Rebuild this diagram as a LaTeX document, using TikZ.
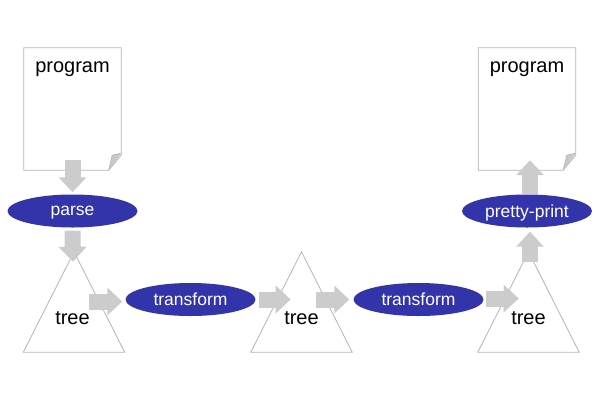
\documentclass[tikz,border=0pt]{standalone}
\usepackage{fontspec}
\setmainfont{Liberation Sans}
\usetikzlibrary{arrows.meta,shapes.geometric}
\definecolor{blk}{RGB}{204,204,204}
\definecolor{ovl}{RGB}{51,51,170}
\definecolor{edge}{RGB}{180,180,180}
\definecolor{fold}{RGB}{200,200,200}
\tikzset{
  docbox/.style={rectangle,draw=none,minimum width=97pt,minimum height=122pt,inner sep=0pt},
  doctext/.style={font=\fontsize{20}{22}\selectfont,anchor=base},
  op/.style={ellipse,fill=ovl,draw=none,text=white,minimum width=130pt,minimum height=33pt,inner sep=0pt,text depth=0pt,font=\fontsize{17.5}{19}\selectfont},
  treebox/.style={rectangle,draw=none,minimum width=101pt,minimum height=100pt,inner sep=0pt},
  treetext/.style={font=\fontsize{20}{22}\selectfont,anchor=base},
  outline/.style={draw=edge,line width=0.8pt,fill=white},
  bigarrow/.style={draw=blk,line width=16pt,-{Triangle[width=27pt,length=15pt]},color=blk},
}
\begin{document}
\begin{tikzpicture}[x=1pt,y=-1pt]
\useasboundingbox (0,0) rectangle (600,400);
% documents
\node[docbox] (doc1) at (72.5,109) {};
\node[docbox] (doc2) at (527,109) {};
\foreach \d in {doc1,doc2}{
  \draw[outline] (\d.north west) -- (\d.north east) -- ([yshift=15pt]\d.south east)
     -- ([xshift=-12.5pt]\d.south east) -- (\d.south west) -- cycle;
  \fill[fold] ([yshift=17pt]\d.south east) -- ([xshift=-9pt,yshift=15pt]\d.south east)
     -- ([xshift=-12.5pt]\d.south east) -- cycle;
  \draw[edge,line width=0.6pt] ([yshift=17pt]\d.south east) -- ([xshift=-9pt,yshift=15pt]\d.south east)
     -- ([xshift=-12.5pt]\d.south east);
}
\node[doctext] (p1) at (72.5,72) {program};
\node[doctext] (p2) at (527,72) {program};
% trees
\node[treebox] (t1) at (74,302) {};
\node[treebox] (t2) at (301.5,302) {};
\node[treebox] (t3) at (528.5,302) {};
\foreach \t in {t1,t2,t3}{
  \draw[outline] (\t.north) -- (\t.south east) -- (\t.south west) -- cycle;
}
\node[treetext] (tt1) at (72.5,324.5) {tree};
\node[treetext] (tt2) at (301.5,324.5) {tree};
\node[treetext] (tt3) at (528.5,324.5) {tree};
% operations
\node[op] (parse) at (72.5,211) {parse};
\node[op] (tr1) at (190.5,299.5) {transform};
\node[op] (tr2) at (418.5,299.5) {transform};
\node[op] (pp) at (527,211) {pretty-print};
% arrows
\draw[bigarrow] ([yshift=10pt]doc1.south) -- ([yshift=2pt]parse.north);
\draw[bigarrow] ([yshift=-3pt]parse.south) -- ([xshift=-1pt,yshift=-10pt]t1.north);
\draw[bigarrow] ([xshift=-36pt,yshift=-2pt]tr1.west) -- ([xshift=-3pt,yshift=-2pt]tr1.west);
\draw[bigarrow] ([xshift=3pt]tr1.east) -- ([xshift=35pt]tr1.east);
\draw[bigarrow] ([xshift=-37pt]tr2.west) -- ([xshift=-4pt]tr2.west);
\draw[bigarrow] ([xshift=2pt,yshift=1pt]tr2.east) -- ([xshift=35pt,yshift=1pt]tr2.east);
\draw[bigarrow] ([xshift=1.5pt,yshift=-10pt]t3.north) -- ([xshift=3pt,yshift=-4pt]pp.south);
\draw[bigarrow] ([xshift=3pt,yshift=0pt]pp.north) -- ([xshift=3pt,yshift=10pt]doc2.south);
\end{tikzpicture}
\end{document}
